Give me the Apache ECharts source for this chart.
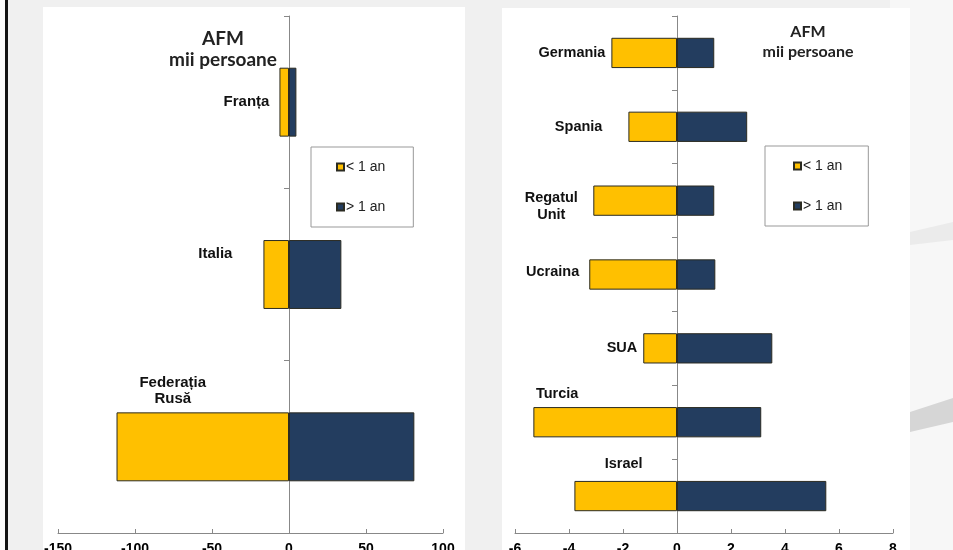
<!DOCTYPE html>
<html>
<head>
<meta charset="utf-8">
<script src="https://cdn.jsdelivr.net/npm/echarts@6/dist/echarts.min.js"></script>
<style>
html,body{margin:0;padding:0;background:#fff;}
#c{width:953px;height:550px;}
</style>
</head>
<body>
<div id="c"></div>
<script>
// ---- data ----
const leftCategories = ['Franța', 'Italia', 'Federația\nRusă'];
const leftUnder1 = [-6.2, -16.6, -112];
const leftOver1 = [4.8, 34, 81.4];
const leftTicks = [-150, -100, -50, 0, 50, 100];

const rightCategories = ['Germania', 'Spania', 'Regatul\nUnit', 'Ucraina', 'SUA', 'Turcia', 'Israel'];
const rightUnder1 = [-2.43, -1.80, -3.10, -3.25, -1.25, -5.32, -3.80];
const rightOver1 = [1.38, 2.60, 1.38, 1.42, 3.53, 3.12, 5.53];
const rightTicks = [-6, -4, -2, 0, 2, 4, 6, 8];

const seriesNames = ['< 1 an', '> 1 an'];
const titleText = 'AFM\nmii persoane';

// ---- styles ----
const YELLOW = '#FFC000';
const NAVY = '#233D5F';
const leftLabelStyle = [
  {position: 'left', distance: 10},
  {position: 'left', distance: 31, offset: [0, -21]},
  {position: 'top', distance: 6, offset: [-30, 0]}
];
const rightLabelStyle = [
  {position: 'left', distance: 6},
  {position: 'left', distance: 26},
  {position: 'left', distance: 42, align: 'center', offset: [0, 6]},
  {position: 'left', distance: 10, offset: [0, -3]},
  {position: 'left', distance: 6},
  {position: 'top', distance: 5, offset: [-48, 0]},
  {position: 'top', distance: 8, offset: [-2, 0]}
];

const chart = echarts.init(document.getElementById('c'), null, {renderer: 'canvas'});

function xAxisFor(gridIndex, ticks, fontSize) {
  return {
    type: 'value', gridIndex: gridIndex,
    min: ticks[0], max: ticks[ticks.length - 1], interval: ticks[1] - ticks[0],
    splitLine: {show: false},
    axisLine: {show: true, onZero: false, lineStyle: {color: '#888', width: 1}},
    axisTick: {show: true, inside: true, length: 4, lineStyle: {color: '#888'}},
    axisLabel: {color: '#000', fontWeight: 'bold', fontSize: fontSize, margin: 9, fontFamily: 'Liberation Sans'}
  };
}
function yAxisFor(gridIndex, cats) {
  return {
    type: 'category', gridIndex: gridIndex, data: cats, inverse: true,
    axisLine: {show: true, onZero: true, lineStyle: {color: '#888', width: 1}},
    axisTick: {show: true, length: 5, lineStyle: {color: '#888'}},
    axisLabel: {show: false}
  };
}
function barSeries(name, idx, values, color, labelStyles, fontSize, lineHeight, barWidth) {
  return {
    type: 'bar', name: name, xAxisIndex: idx, yAxisIndex: idx, stack: 'g' + idx,
    barWidth: barWidth,
    itemStyle: {color: color, borderColor: '#2b2b22', borderWidth: 1},
    data: values.map((v, i) => labelStyles ? {
      value: v,
      label: Object.assign({show: true}, labelStyles[i])
    } : v),
    label: {
      show: false, color: '#111', fontWeight: 'bold', fontSize: fontSize, lineHeight: lineHeight,
      fontFamily: 'Liberation Sans',
      formatter: p => p.name
    },
    emphasis: {disabled: true}
  };
}
function legendFor(left, top, padding) {
  return {
    data: seriesNames, orient: 'vertical', left: left, top: top,
    padding: padding, itemGap: 26, itemWidth: 7, itemHeight: 7, icon: 'rect',
    borderColor: '#999', borderWidth: 1, backgroundColor: '#fff',
    textStyle: {color: '#222', fontSize: 14, lineHeight: 14, fontFamily: 'Liberation Sans', padding: [0, 0, 0, -3]},
    selectedMode: false
  };
}

const option = {
  backgroundColor: '#efefef',
  animation: false,
  graphic: [
    {type: 'rect', z: -10, shape: {x: 0, y: 0, width: 953, height: 550}, style: {fill: '#f0f0f0'}},
    {type: 'rect', z: -10, shape: {x: 890, y: 0, width: 63, height: 550}, style: {fill: '#f7f7f7'}},
    {type: 'rect', z: -9, shape: {x: 0, y: 0, width: 5, height: 550}, style: {fill: '#fafafa'}},
    {type: 'rect', z: -9, shape: {x: 5, y: 0, width: 3, height: 550}, style: {fill: '#111'}},
    {type: 'rect', z: -9, shape: {x: 43, y: 7, width: 422, height: 543}, style: {fill: '#ffffff'}},
    {type: 'rect', z: -9, shape: {x: 502, y: 8, width: 408, height: 542}, style: {fill: '#ffffff'}},
    {type: 'polygon', z: -9, shape: {points: [[910, 232], [953, 222], [953, 240], [910, 245]]}, style: {fill: '#ebebeb'}},
    {type: 'polygon', z: -9, shape: {points: [[910, 412], [953, 398], [953, 422], [910, 432]]}, style: {fill: '#d6d6d6'}}
  ],
  title: [
    {text: titleText, left: 218, top: 23, textAlign: 'center',
     textStyle: {fontFamily: 'Lato', fontWeight: 'bold', fontSize: 19, lineHeight: 21, color: '#222'}},
    {text: titleText, left: 803, top: 17, textAlign: 'center',
     textStyle: {fontFamily: 'Lato', fontWeight: 'bold', fontSize: 16, lineHeight: 20, color: '#222'}}
  ],
  legend: [
    legendFor(311, 147, [13, 28, 13, 25]),
    legendFor(765, 146, [13, 26, 13, 28])
  ],
  grid: [
    {left: 58, width: 385, top: 16, height: 517, outerBoundsMode: 'none', containLabel: false},
    {left: 515, width: 378, top: 16, height: 517, outerBoundsMode: 'none', containLabel: false}
  ],
  xAxis: [xAxisFor(0, leftTicks, 14), xAxisFor(1, rightTicks, 14)],
  yAxis: [yAxisFor(0, leftCategories), yAxisFor(1, rightCategories)],
  series: [
    barSeries(seriesNames[0], 0, leftUnder1, YELLOW, leftLabelStyle, 15, 16, '40%'),
    barSeries(seriesNames[1], 0, leftOver1, NAVY, null, 15, 16, '40%'),
    barSeries(seriesNames[0], 1, rightUnder1, YELLOW, rightLabelStyle, 14.5, 17, '41%'),
    barSeries(seriesNames[1], 1, rightOver1, NAVY, null, 14.5, 17, '41%')
  ]
};
chart.setOption(option);
</script>
</body>
</html>
